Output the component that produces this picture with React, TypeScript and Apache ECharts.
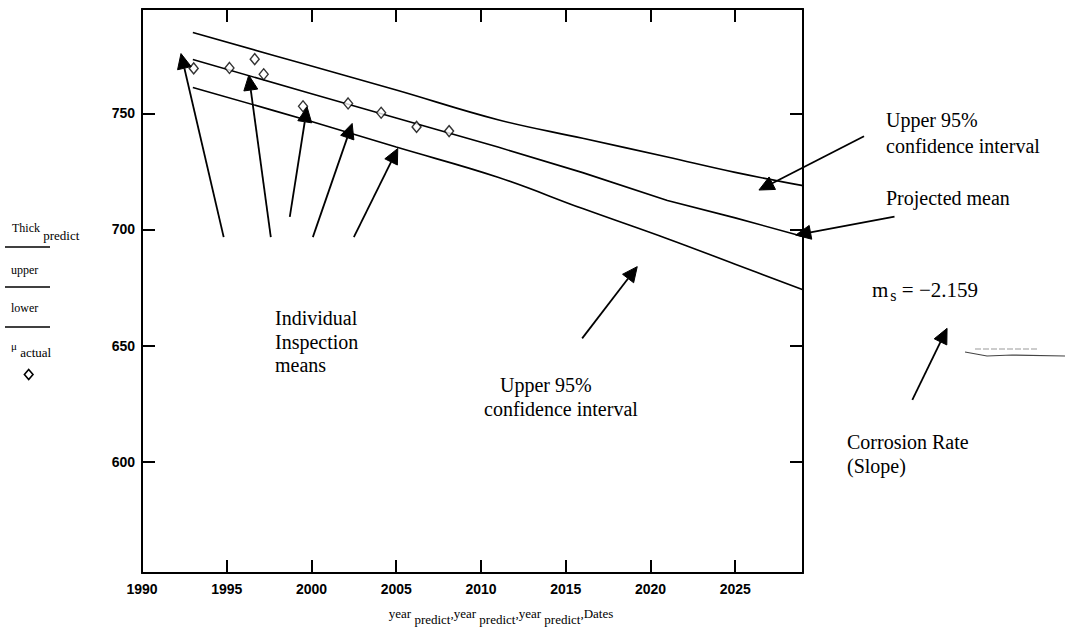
import { useEffect, useRef } from "react";
import * as echarts from "echarts";

// ---- data ----
const years = [1993, 2000, 2005, 2011, 2016, 2021, 2025, 2029];
const thickPredict = [773.2, 758.5, 748.0, 735.5, 724.5, 712.5, 705.0, 697.0];
const upperCI = [784.9, 770.4, 760.1, 747.3, 739.3, 731.2, 724.6, 718.9];
const lowerCI = [761.2, 746.5, 735.5, 722.5, 709.0, 696.0, 685.0, 674.0];

const dates = [1993.05, 1995.16, 1996.65, 1997.18, 1999.5, 2002.16, 2004.11, 2006.2, 2008.12];
const muActual = [769.4, 769.6, 773.4, 766.9, 753.1, 754.3, 750.3, 744.2, 742.4];

const xLabelValues = [1990, 1995, 2000, 2005, 2010, 2015, 2020, 2025];
const xTickValues = [1995, 2000, 2005, 2010, 2015, 2020, 2025];
const yTickValues = [600, 650, 700, 750];

// annotation arrows, in data coordinates (tail -> head)
const arrowTails = [
  [1994.82, 696.7], [1997.6, 696.7], [1998.72, 705.4], [2000.08, 696.7], [2002.5, 696.7],
  [2015.97, 653.1], [2032.6, 740.2], [2034.4, 705.5], [2035.45, 626.6],
];
const arrowHeads = [
  [1992.3, 775.8], [1996.3, 766.5], [1999.74, 752.8], [2002.4, 745.7], [2005.09, 734.9],
  [2019.22, 684.0], [2026.4, 717.0], [2028.57, 697.6], [2037.5, 657.4],
];

const SERIF = "'Liberation Serif', 'DejaVu Serif', serif";
const SANS = "'Liberation Sans', Arial, sans-serif";

export default function App() {
  const ref = useRef<HTMLDivElement>(null);

  useEffect(() => {
    const chart = echarts.init(ref.current!, null, { renderer: "svg" });
    const axisLine = { show: true, onZero: false, lineStyle: { color: "#000", width: 2 } };
    const tick = (vals: number[]) => ({
      show: true,
      inside: true,
      length: 13,
      lineStyle: { color: "#000", width: 2 },
      customValues: vals,
    });
    const lbl = (vals: number[], margin: number) => ({
      customValues: vals,
      color: "#000",
      fontFamily: SANS,
      fontSize: 14,
      fontWeight: "bold",
      margin,
      formatter: (v: number) => String(v),
    });

    chart.setOption({
      animation: false,
      backgroundColor: "#fff",
      grid: { left: 142, right: 262, top: 9, bottom: 63 },
      xAxis: [
        {
          type: "value", min: 1990, max: 2029, position: "bottom",
          axisLine, axisTick: tick(xTickValues), axisLabel: lbl(xLabelValues, 9),
          splitLine: { show: false },
        },
        {
          type: "value", min: 1990, max: 2029, position: "top",
          axisLine, axisTick: tick(xTickValues), axisLabel: { show: false },
          splitLine: { show: false },
        },
      ],
      yAxis: [
        {
          type: "value", min: 552, max: 795, position: "left",
          axisLine, axisTick: tick(yTickValues), axisLabel: lbl(yTickValues, 7),
          splitLine: { show: false },
        },
        {
          type: "value", min: 552, max: 795, position: "right",
          axisLine, axisTick: tick(yTickValues), axisLabel: { show: false },
          splitLine: { show: false },
        },
      ],
      series: [
        {
          name: "Thick predict", type: "line", showSymbol: false,
          data: years.map((y, i) => [y, thickPredict[i]]),
          lineStyle: { color: "#000", width: 1.6 },
        },
        {
          name: "upper", type: "line", showSymbol: false, smooth: 0.4,
          data: years.map((y, i) => [y, upperCI[i]]),
          lineStyle: { color: "#000", width: 1.6 },
        },
        {
          name: "lower", type: "line", showSymbol: false, smooth: 0.4,
          data: years.map((y, i) => [y, lowerCI[i]]),
          lineStyle: { color: "#000", width: 1.6 },
        },
        {
          name: "μ actual", type: "scatter", symbol: "diamond", symbolSize: [9, 11],
          data: dates.map((d, i) => [d, muActual[i]]),
          itemStyle: { color: "#fff", borderColor: "#000", borderWidth: 1.4 },
          z: 3,
        },
      ],
    });

    const toPx = (p: number[]) =>
      chart.convertToPixel({ xAxisIndex: 0, yAxisIndex: 0 }, p) as number[];

    const graphics: any[] = [];
    arrowTails.forEach((t, i) => {
      const a = toPx(t);
      const b = toPx(arrowHeads[i]);
      const dx = b[0] - a[0];
      const dy = b[1] - a[1];
      const len = Math.hypot(dx, dy);
      const ux = dx / len;
      const uy = dy / len;
      const L = 15;
      const W = 7;
      const bx = b[0] - ux * L;
      const by = b[1] - uy * L;
      graphics.push({
        type: "line",
        shape: { x1: a[0], y1: a[1], x2: bx, y2: by },
        style: { stroke: "#000", lineWidth: 1.8 },
        z: 10,
      });
      graphics.push({
        type: "polygon",
        shape: {
          points: [
            [b[0], b[1]],
            [bx - uy * W, by + ux * W],
            [bx + uy * W, by - ux * W],
          ],
        },
        style: { fill: "#000", stroke: "#000", lineWidth: 1 },
        z: 10,
      });
    });

    const txt = (text: string, x: number, y: number, size = 20, extra: any = {}) => ({
      type: "text",
      x, y,
      style: {
        text, fill: "#000", fontFamily: SERIF, fontSize: size,
        verticalAlign: "middle", ...extra,
      },
      z: 10,
    });

    // middle annotations
    graphics.push(txt("Individual", 275, 318));
    graphics.push(txt("Inspection", 275, 342));
    graphics.push(txt("means", 275, 365));
    graphics.push(txt("Upper 95%", 500, 385));
    graphics.push(txt("confidence interval", 484, 409));
    // right annotations
    graphics.push(txt("Upper 95%", 886, 120));
    graphics.push(txt("confidence interval", 886, 146));
    graphics.push(txt("Projected mean", 886, 198));
    graphics.push({
      type: "text", x: 872, y: 290, z: 10,
      style: {
        text: "{n|m}{s|s}{n| = −2.159}",
        verticalAlign: "middle",
        rich: {
          n: { fontFamily: SERIF, fontSize: 21, color: "#000", lineHeight: 22, verticalAlign: "top" },
          s: { fontFamily: SERIF, fontSize: 16, color: "#000", lineHeight: 22, padding: [8, 0, 0, 2], verticalAlign: "top" },
        },
      },
    });
    graphics.push(txt("Corrosion Rate", 847, 442));
    graphics.push(txt("(Slope)", 847, 466));

    // axis title
    graphics.push({
      type: "text", x: 501, y: 614, z: 10,
      style: {
        text: "{n|year}{s| predict}{n|,year}{s| predict}{n|,year}{s| predict}{n|,Dates}",
        align: "center",
        verticalAlign: "middle",
        rich: {
          n: { fontFamily: SERIF, fontSize: 13, color: "#000", lineHeight: 14, verticalAlign: "top" },
          s: { fontFamily: SERIF, fontSize: 13, color: "#000", lineHeight: 14, padding: [6, 0, 0, 0], verticalAlign: "top" },
        },
      },
    });

    // left legend (Mathcad style)
    graphics.push({
      type: "text", x: 12, y: 228, z: 10,
      style: {
        text: "{n|Thick}{s| predict}",
        verticalAlign: "middle",
        rich: {
          n: { fontFamily: SERIF, fontSize: 12, color: "#000", lineHeight: 13, verticalAlign: "top" },
          s: { fontFamily: SERIF, fontSize: 13, color: "#000", lineHeight: 13, padding: [7, 0, 0, 0], verticalAlign: "top" },
        },
      },
    });
    [247, 287, 327].forEach((y) =>
      graphics.push({
        type: "line", shape: { x1: 5, y1: y, x2: 50, y2: y },
        style: { stroke: "#000", lineWidth: 1.6 }, z: 10,
      })
    );
    graphics.push(txt("upper", 11, 270, 12));
    graphics.push(txt("lower", 11, 308, 12));
    graphics.push({
      type: "text", x: 11, y: 346, z: 10,
      style: {
        text: "{m|μ}{s| actual}",
        verticalAlign: "middle",
        rich: {
          m: { fontFamily: SERIF, fontSize: 11, color: "#000", lineHeight: 12, verticalAlign: "top" },
          s: { fontFamily: SERIF, fontSize: 13, color: "#000", lineHeight: 12, padding: [6, 0, 0, 0], verticalAlign: "top" },
        },
      },
    });
    graphics.push({
      type: "polygon",
      shape: { points: [[28.7, 369.5], [33, 374.5], [28.7, 379.5], [24.4, 374.5]] },
      style: { fill: "#fff", stroke: "#000", lineWidth: 1.6 }, z: 10,
    });

    // scan stroke at right
    graphics.push({
      type: "polyline",
      shape: { points: [[965, 352], [987, 356], [1012, 355], [1065, 356]] },
      style: { stroke: "#444", lineWidth: 1.2, fill: "none" }, z: 10,
    });
    graphics.push({
      type: "line",
      shape: { x1: 975, y1: 349, x2: 1037, y2: 349 },
      style: { stroke: "#999", lineWidth: 1, lineDash: [6, 2] }, z: 10,
    });

    chart.setOption({ graphic: graphics });

    return () => chart.dispose();
  }, []);

  return (
    <div
      ref={ref}
      style={{ position: "fixed", left: 0, top: 0, width: 1065, height: 636, background: "#fff" }}
    />
  );
}
